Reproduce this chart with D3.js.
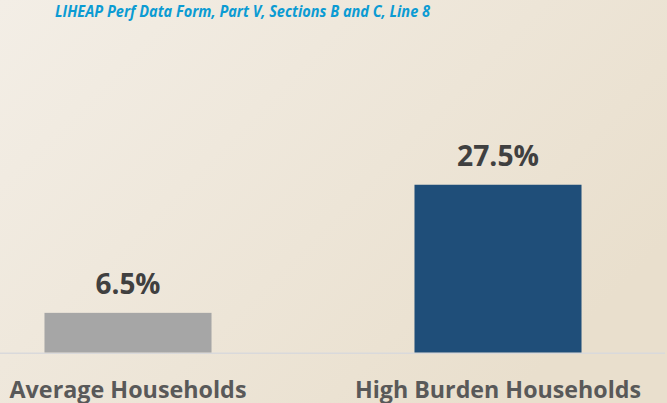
<!DOCTYPE html>
<html><head><meta charset="utf-8">
<script src="https://cdn.jsdelivr.net/npm/d3@7"></script>
<style>html,body{margin:0;padding:0;overflow:hidden;background:#efe8dc}</style>
</head><body>
<svg id="c" width="667" height="403"></svg>
<script>
const categories = ["Average Households", "High Burden Households"];
const values = [6.5, 27.5];
const valueLabels = ["6.5%", "27.5%"];
const barColors = ["#a6a6a6", "#1f4e79"];
const title = "LIHEAP Perf Data Form, Part V, Sections B and C, Line 8";

const svg = d3.select("#c");
const W = 667, H = 403;
const defs = svg.append("defs");
const g = defs.append("linearGradient").attr("id","bg").attr("x1","0").attr("y1","0").attr("x2","1").attr("y2","0.6");
g.append("stop").attr("offset","0").attr("stop-color","#f3eee6");
g.append("stop").attr("offset","1").attr("stop-color","#e9dfcd");
svg.append("rect").attr("width",W).attr("height",H).attr("fill","url(#bg)");

function fitWidth(node, target){
  const fs = parseFloat(node.getAttribute("font-size"));
  const w = node.getComputedTextLength();
  if (w > 0) node.setAttribute("font-size", (fs * target / w).toFixed(2));
}

const baseY = 352.5;
const x = d3.scaleBand().domain(categories).range([-57, 683]).paddingInner(0.5486).paddingOuter(0.2743);
const y = d3.scaleLinear().domain([0, 30]).range([baseY, baseY - 183]);

svg.append("line").attr("x1",0).attr("x2",665).attr("y1",baseY+0.8).attr("y2",baseY+0.8)
  .attr("stroke","#d9d9db").attr("stroke-width",1.6);

svg.selectAll("rect.bar").data(values).join("rect").attr("class","bar")
  .attr("x",(d,i)=>x(categories[i])).attr("width",x.bandwidth())
  .attr("y",d=>y(d)).attr("height",d=>baseY - y(d))
  .attr("fill",(d,i)=>barColors[i]);

const valW = [65, 82];
svg.selectAll("text.val").data(values).join("text").attr("class","val")
  .attr("x",(d,i)=>x(categories[i])+x.bandwidth()/2).attr("y",d=>y(d)-19)
  .attr("text-anchor","middle").attr("font-family","Open Sans").attr("font-weight","bold")
  .attr("font-size",25).attr("fill","#404040").text((d,i)=>valueLabels[i])
  .each(function(d,i){ fitWidth(this, valW[i]); });

const catW = [237, 286];
svg.selectAll("text.cat").data(categories).join("text").attr("class","cat")
  .attr("x",d=>x(d)+x.bandwidth()/2).attr("y",397.5)
  .attr("text-anchor","middle").attr("font-family","Open Sans").attr("font-weight","bold")
  .attr("font-size",24).attr("fill","#595959").text(d=>d)
  .each(function(d,i){ fitWidth(this, catW[i]); });

svg.append("text").attr("x",242.5).attr("y",16.5).attr("text-anchor","middle")
  .attr("font-family","Open Sans").attr("font-weight","bold").attr("font-style","italic")
  .attr("font-size",16).attr("fill","#0b9bd3")
  .attr("textLength",375).attr("lengthAdjust","spacingAndGlyphs").text(title);
</script>
</body></html>
